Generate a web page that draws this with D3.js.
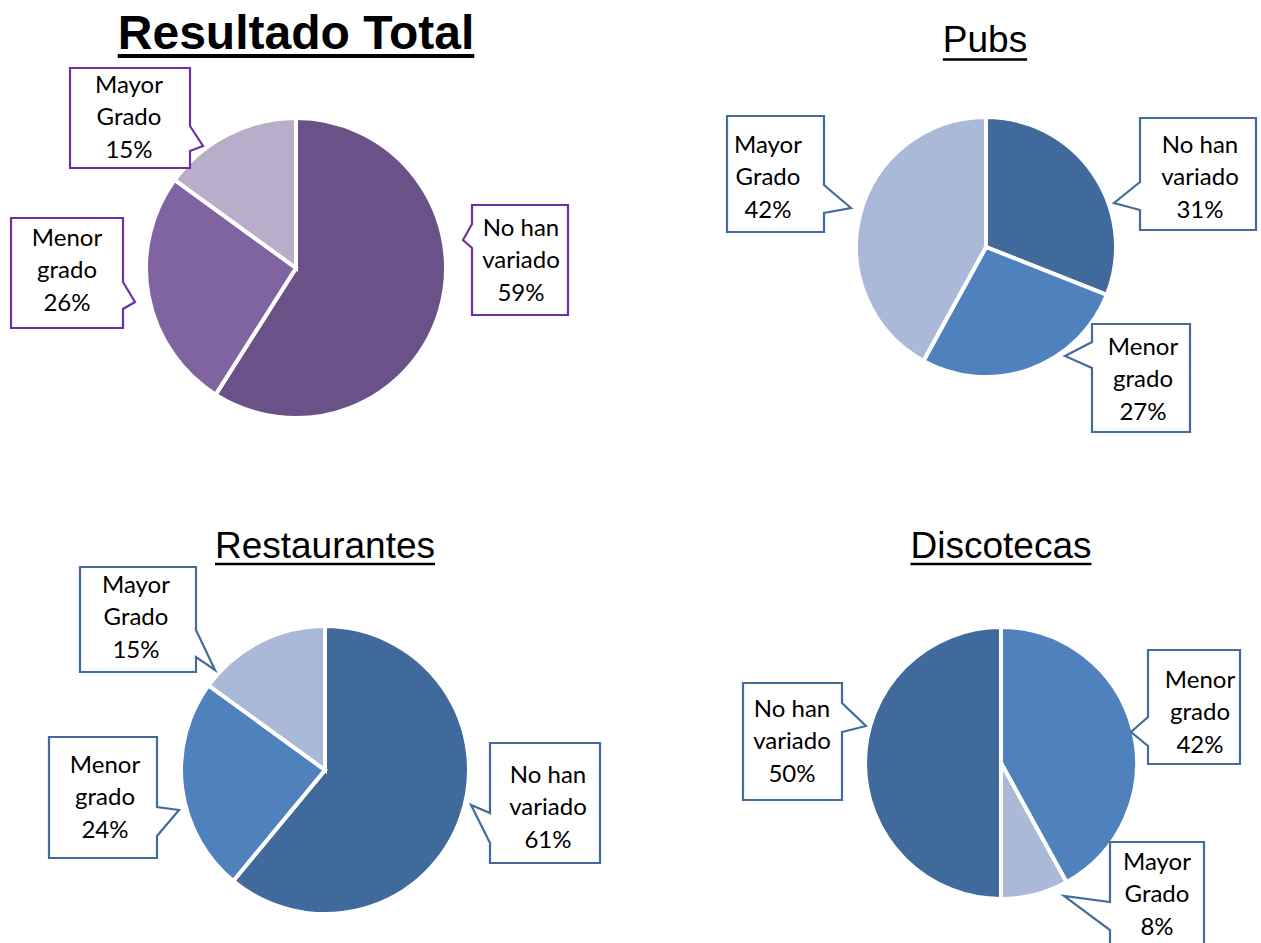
<!DOCTYPE html>
<html>
<head>
<meta charset="utf-8">
<script src="https://cdnjs.cloudflare.com/ajax/libs/d3/7.8.5/d3.min.js"></script>
<style>
  body { margin: 0; background: #fff; }
  svg { display: block; }
</style>
</head>
<body>
<svg id="canvas"></svg>
<script>
// data
const categories = ["No han variado", "Menor grado", "Mayor Grado"];
const labelLines = { "No han variado": ["No han", "variado"], "Menor grado": ["Menor", "grado"], "Mayor Grado": ["Mayor", "Grado"] };
const totalValues = [59, 26, 15];
const pubsValues = [31, 27, 42];
const restaurantesValues = [61, 24, 15];
const discotecasValues = [50, 42, 8];
const discotecasOrder = ["Menor grado", "Mayor Grado", "No han variado"];   // slice order, clockwise from 12 o'clock

const width = 1261;
const height = 943;

const purple = d3.scaleOrdinal().domain(categories).range(["#6a5289", "#8064a2", "#b9aeca"]);
const blue = d3.scaleOrdinal().domain(categories).range(["#416a9c", "#4f81bd", "#aab9d7"]);

// layout for each chart: pie centre + radius, title, callouts (box, tail, text)
const charts = [
  {
    title: "Resultado Total", bold: true, tx: 296, ty: 49, fs: 48, ul: 56, ulw: 4,
    values: totalValues, order: categories, color: purple, border: "#7030a0",
    cx: 296, cy: 268, r: 150,
    callouts: {
      "Mayor Grado":    { box: [70, 68, 120, 100], side: "right", base: [126, 151], tip: [203, 146], tcx: 129, ty: 93 },
      "Menor grado":    { box: [11, 218, 112, 110], side: "right", base: [282, 309], tip: [135, 302], tcx: 67, ty: 246 },
      "No han variado": { box: [472, 205, 96, 110], side: "left", base: [224, 248], tip: [463, 240], tcx: 521, ty: 236 }
    }
  },
  {
    title: "Pubs", bold: false, tx: 985, ty: 52, fs: 37, ul: 59.5, ulw: 2.5,
    values: pubsValues, order: categories, color: blue, border: "#436c9d",
    cx: 986, cy: 247, r: 130,
    callouts: {
      "Mayor Grado":    { box: [727, 116, 97, 116], side: "right", base: [185, 213], tip: [851, 208], tcx: 768, ty: 153 },
      "No han variado": { box: [1140, 118, 116, 112], side: "left", base: [182, 210], tip: [1114, 203], tcx: 1200, ty: 153 },
      "Menor grado":    { box: [1092, 324, 98, 108], side: "left", base: [342, 368], tip: [1065, 356], tcx: 1143, ty: 355 }
    }
  },
  {
    title: "Restaurantes", bold: false, tx: 325, ty: 558, fs: 37, ul: 564, ulw: 2.5,
    values: restaurantesValues, order: categories, color: blue, border: "#436c9d",
    cx: 325, cy: 770, r: 144,
    callouts: {
      "Mayor Grado":    { box: [80, 567, 116, 105], side: "right", base: [630, 657], tip: [215, 670], tcx: 136, ty: 593 },
      "Menor grado":    { box: [49, 737, 108, 121], side: "right", base: [807, 836], tip: [179, 810], tcx: 105, ty: 773 },
      "No han variado": { box: [490, 743, 110, 120], side: "left", base: [813, 843], tip: [471, 805], tcx: 548, ty: 783 }
    }
  },
  {
    title: "Discotecas", bold: false, tx: 1001, ty: 558, fs: 37, ul: 564, ulw: 2.5,
    values: discotecasValues, order: discotecasOrder, color: blue, border: "#436c9d",
    cx: 1001, cy: 763, r: 136,
    callouts: {
      "No han variado": { box: [743, 683, 99, 117], side: "right", base: [703, 732], tip: [866, 726], tcx: 792, ty: 717 },
      "Menor grado":    { box: [1148, 650, 92, 114], side: "left", base: [717, 746], tip: [1131, 732], tcx: 1200, ty: 688 },
      "Mayor Grado":    { box: [1110, 842, 94, 110], side: "left", base: [902, 930], tip: [1064, 896], tcx: 1157, ty: 870 }
    }
  }
];

const svg = d3.select("#canvas")
  .attr("width", width)
  .attr("height", height);

// builds the callout outline: a box with a wedge tail on one side
function calloutPath(c) {
  const [x, y, w, h] = c.box;
  const [b0, b1] = c.base;
  const p = d3.path();
  if (c.side === "right") {
    p.moveTo(x, y); p.lineTo(x + w, y); p.lineTo(x + w, b0);
    p.lineTo(c.tip[0], c.tip[1]); p.lineTo(x + w, b1);
    p.lineTo(x + w, y + h); p.lineTo(x, y + h);
  } else {
    p.moveTo(x, y); p.lineTo(x + w, y); p.lineTo(x + w, y + h);
    p.lineTo(x, y + h); p.lineTo(x, b1);
    p.lineTo(c.tip[0], c.tip[1]); p.lineTo(x, b0);
  }
  p.closePath();
  return p.toString();
}

charts.forEach(ch => {
  const g = svg.append("g");

  // title
  const t = g.append("text")
    .attr("x", ch.tx)
    .attr("y", ch.ty)
    .attr("text-anchor", "middle")
    .style("font-family", "'Liberation Sans', Arial, sans-serif")
    .style("font-size", ch.fs + "px")
    .style("font-weight", ch.bold ? "bold" : "normal")
    .text(ch.title);
  const tw = t.node().getComputedTextLength();
  g.append("rect")
    .attr("x", ch.tx - tw / 2)
    .attr("y", ch.ul - ch.ulw / 2)
    .attr("width", tw)
    .attr("height", ch.ulw)
    .attr("fill", "#000");

  // pie
  const rows = ch.order.map(k => ({ name: k, value: ch.values[categories.indexOf(k)] }));
  const pie = d3.pie().sort(null).value(d => d.value);
  const arc = d3.arc().innerRadius(0).outerRadius(ch.r);

  g.append("g")
    .attr("transform", `translate(${ch.cx},${ch.cy})`)
    .selectAll("path")
    .data(pie(rows))
    .enter()
    .append("path")
    .attr("d", arc)
    .attr("fill", d => ch.color(d.data.name))
    .attr("stroke", "#fff")
    .attr("stroke-width", 4)
    .attr("stroke-linejoin", "miter");

  // callouts
  rows.forEach(row => {
    const c = ch.callouts[row.name];
    g.append("path")
      .attr("d", calloutPath(c))
      .attr("fill", "#fff")
      .attr("stroke", ch.border)
      .attr("stroke-width", 2.2);

    const lines = labelLines[row.name].concat([row.value + "%"]);
    g.append("g")
      .selectAll("text")
      .data(lines)
      .enter()
      .append("text")
      .attr("x", c.tcx)
      .attr("y", (d, i) => c.ty + i * 32.3)
      .attr("text-anchor", "middle")
      .style("font-family", "Lato, 'Open Sans', sans-serif")
      .style("font-size", "24px")
      .attr("fill", "#000")
      .text(d => d);
  });
});
</script>
</body>
</html>
